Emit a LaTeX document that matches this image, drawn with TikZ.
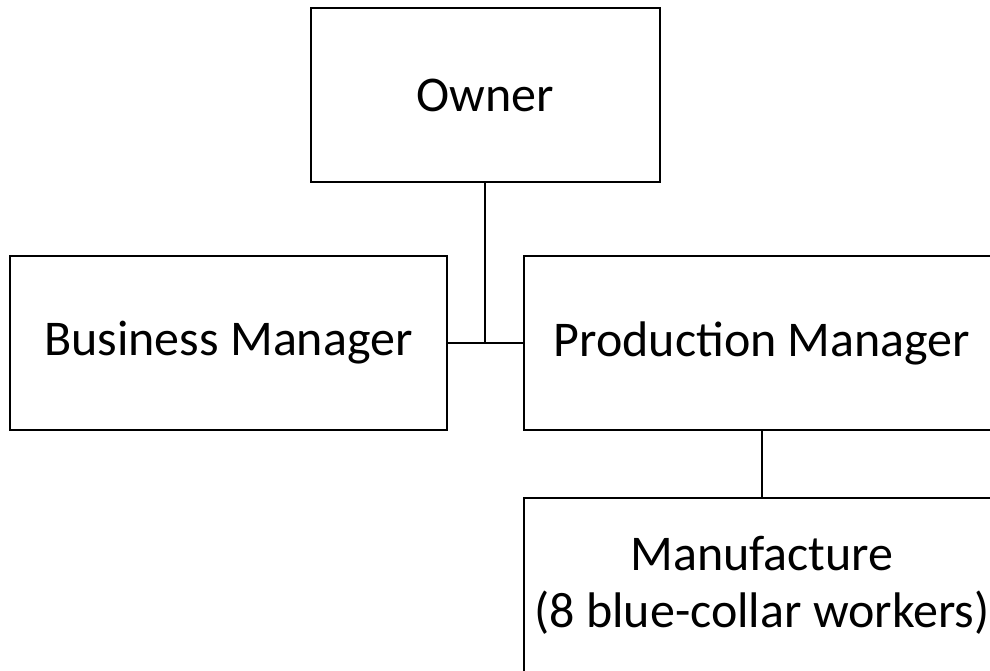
\documentclass[tikz,border=0pt]{standalone}
\usepackage{fontspec}
\setmainfont{Carlito}
\usetikzlibrary{positioning}

\begin{document}
\begin{tikzpicture}[x=0.5pt,y=-0.5pt,font=\fontsize{25}{28.5}\selectfont,
  org/.style ={draw=black,line width=1pt,align=center,minimum height=87pt,inner sep=3pt,fill=white},
  top/.style ={org,minimum width=174.5pt},
  mgr/.style ={org,minimum width=218.5pt},
  wide/.style={org,minimum width=238pt},
  link/.style={line width=1pt}]
\useasboundingbox (0,0) rectangle (990,670);
\clip (0,0) rectangle (990,670);

\node[top]  (own) at (485,95)    {Owner};
\node[mgr]  (bm)  at (228.5,343) {Business Manager};
\node[wide] (pm)  at (762,343)   {Production Manager};
\node[wide] (mf)  at (762,585)   {Manufacture\\(8 blue-collar workers)};

\draw[link] (own.south) -- (own.south |- bm.east);
\draw[link] (bm.east) -- (pm.west);
\draw[link] (pm.south) -- (mf.north);
\end{tikzpicture}
\end{document}
